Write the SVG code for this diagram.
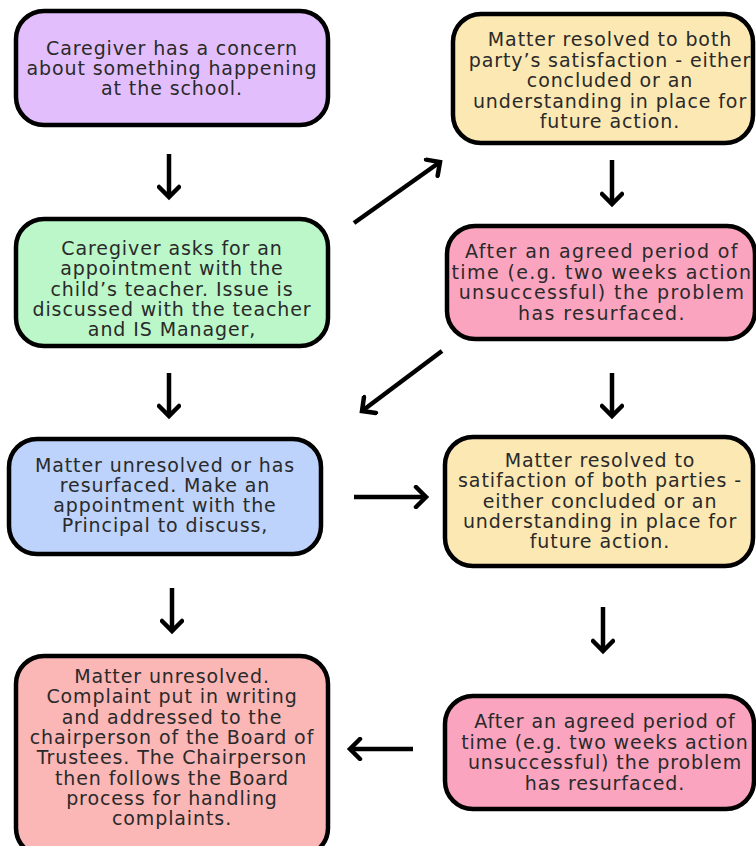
<svg xmlns="http://www.w3.org/2000/svg" width="756" height="846" viewBox="0 0 756 846">
<defs>
<style>
.box{stroke:#000;stroke-width:4.5}
.t{font-family:"DejaVu Sans","Open Sans",sans-serif;font-size:19px;letter-spacing:0.9px;fill:#2a2a2a;text-anchor:middle}
.big{letter-spacing:1.4px}
.c{fill:none;stroke:#000;stroke-width:4.5;stroke-linecap:butt}
</style>
<marker id="ah" markerUnits="userSpaceOnUse" viewBox="-14 -12 18 24" markerWidth="18" markerHeight="24" refX="0" refY="0" orient="auto">
<path d="M-10,-10 L0,0 L-10,10" fill="none" stroke="#000" stroke-width="4.5" stroke-linejoin="miter" stroke-linecap="round"/>
</marker>
</defs>
<rect width="756" height="846" fill="#fff"/>
<g id="connectors">
<path class="c" d="M169,154 V197" marker-end="url(#ah)"/>
<path class="c" d="M354,223 L440,162" marker-end="url(#ah)"/>
<path class="c" d="M612,160 V204" marker-end="url(#ah)"/>
<path class="c" d="M442,351 L362,411" marker-end="url(#ah)"/>
<path class="c" d="M169,373 V416" marker-end="url(#ah)"/>
<path class="c" d="M612,373 V416" marker-end="url(#ah)"/>
<path class="c" d="M354,497 H426" marker-end="url(#ah)"/>
<path class="c" d="M172,588 V631" marker-end="url(#ah)"/>
<path class="c" d="M603,607 V651" marker-end="url(#ah)"/>
<path class="c" d="M413,749 H350" marker-end="url(#ah)"/>
</g>
<g id="n1">
<rect class="box" x="16" y="11" width="312" height="114" rx="28" fill="#e2bffc"/>
<text class="t" x="172" y="55">Caregiver has a concern</text>
<text class="t" x="172" y="75">about something happening</text>
<text class="t" x="172" y="95">at the school.</text>
</g>
<g id="n2">
<rect class="box" x="453" y="14" width="300" height="129" rx="28" fill="#fce8b2"/>
<text class="t" x="610" y="46">Matter resolved to both</text>
<text class="t" x="610" y="66.5">party’s satisfaction - either</text>
<text class="t" x="610" y="87">concluded or an</text>
<text class="t" x="610" y="107.5">understanding in place for</text>
<text class="t" x="610" y="128">future action.</text>
</g>
<g id="n3">
<rect class="box" x="16" y="219" width="312" height="127" rx="28" fill="#bbf7c9"/>
<text class="t" x="172" y="255">Caregiver asks for an</text>
<text class="t" x="172" y="275.3">appointment with the</text>
<text class="t" x="172" y="295.6">child’s teacher. Issue is</text>
<text class="t" x="172" y="315.9">discussed with the teacher</text>
<text class="t" x="172" y="336">and IS Manager,</text>
</g>
<g id="n4">
<rect class="box" x="447" y="226" width="308" height="113" rx="28" fill="#fba4bf"/>
<text class="t big" x="602" y="258">After an agreed period of</text>
<text class="t big" x="602" y="278.7">time (e.g. two weeks action</text>
<text class="t big" x="602" y="299.4">unsuccessful) the problem</text>
<text class="t big" x="602" y="320">has resurfaced.</text>
</g>
<g id="n5">
<rect class="box" x="9" y="439" width="312" height="115" rx="28" fill="#bdd3fb"/>
<text class="t" x="165" y="472">Matter unresolved or has</text>
<text class="t" x="165" y="492">resurfaced. Make an</text>
<text class="t" x="165" y="512">appointment with the</text>
<text class="t" x="165" y="532">Principal to discuss,</text>
</g>
<g id="n6">
<rect class="box" x="445" y="437" width="308" height="129" rx="28" fill="#fce8b2"/>
<text class="t" x="600" y="467">Matter resolved to</text>
<text class="t" x="600" y="487.3">satifaction of both parties -</text>
<text class="t" x="600" y="507.6">either concluded or an</text>
<text class="t" x="600" y="527.9">understanding in place for</text>
<text class="t" x="600" y="548">future action.</text>
</g>
<g id="n7">
<rect class="box" x="16" y="656" width="312" height="200" rx="28" fill="#fbb6b6"/>
<text class="t" x="172" y="683">Matter unresolved.</text>
<text class="t" x="172" y="703.3">Complaint put in writing</text>
<text class="t" x="172" y="723.6">and addressed to the</text>
<text class="t" x="172" y="743.9">chairperson of the Board of</text>
<text class="t" x="172" y="764.2">Trustees. The Chairperson</text>
<text class="t" x="172" y="784.5">then follows the Board</text>
<text class="t" x="172" y="804.8">process for handling</text>
<text class="t" x="172" y="825">complaints.</text>
</g>
<g id="n8">
<rect class="box" x="445" y="696" width="309" height="113" rx="28" fill="#fba4bf"/>
<text class="t" x="605" y="728">After an agreed period of</text>
<text class="t" x="605" y="748.7">time (e.g. two weeks action</text>
<text class="t" x="605" y="769.4">unsuccessful) the problem</text>
<text class="t" x="605" y="790">has resurfaced.</text>
</g>
</svg>
